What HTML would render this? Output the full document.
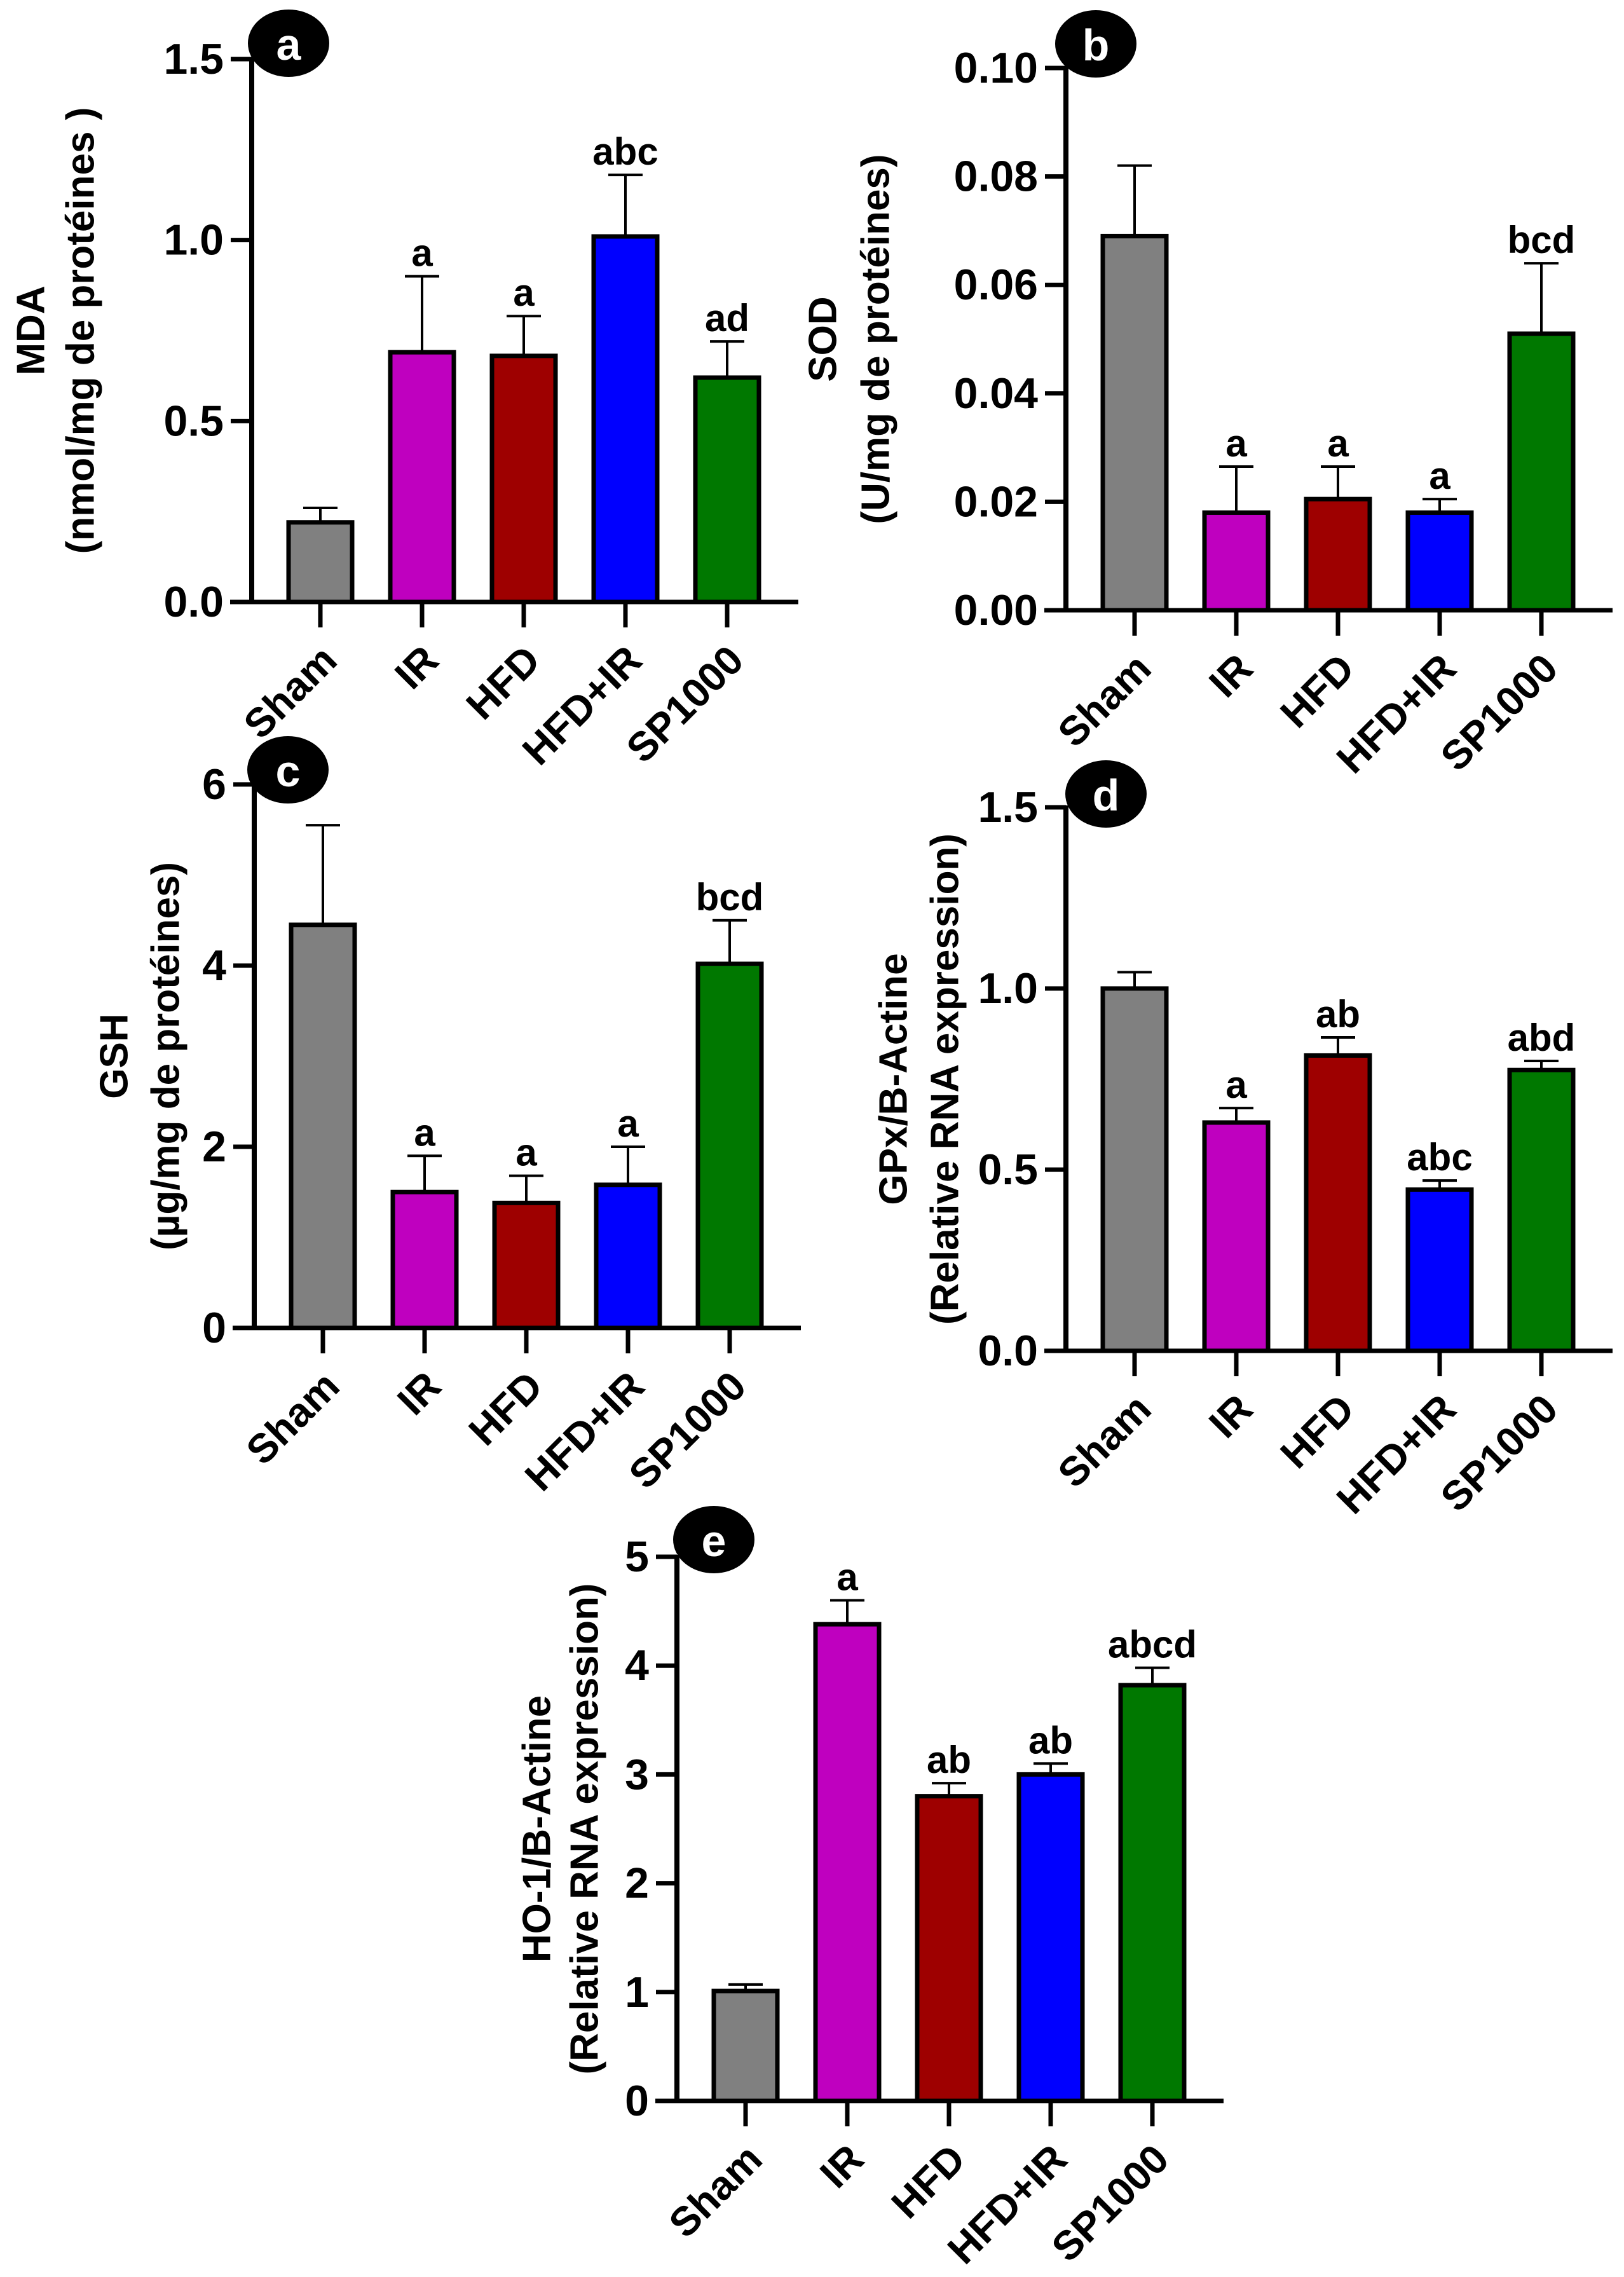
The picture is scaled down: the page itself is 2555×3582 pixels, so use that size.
<!DOCTYPE html>
<html><head><meta charset="utf-8">
<style>
html,body{margin:0;padding:0;background:#fff;}
svg{display:block;}
text{font-family:"Liberation Sans",Arial,sans-serif;font-weight:bold;}
</style></head>
<body>
<svg id="fig" width="2555" height="3582" viewBox="0 0 2555 3582" xmlns="http://www.w3.org/2000/svg"></svg>
<script>
const categories = ["Sham","IR","HFD","HFD+IR","SP1000"];
const colors = ["#808080","#BF00BF","#9E0000","#0000FF","#007800"];

const mdaValues = [0.22,0.69,0.68,1.01,0.62];
const mdaErrTop = [0.26,0.90,0.79,1.18,0.72];
const mdaLetters = ["","a","a","abc","ad"];
const mdaTicks = ["0.0","0.5","1.0","1.5"];

const sodValues = [0.069,0.018,0.0205,0.018,0.051];
const sodErrTop = [0.082,0.0265,0.0265,0.0205,0.064];
const sodLetters = ["","a","a","a","bcd"];
const sodTicks = ["0.00","0.02","0.04","0.06","0.08","0.10"];

const gshValues = [4.45,1.50,1.38,1.58,4.02];
const gshErrTop = [5.55,1.90,1.68,2.00,4.50];
const gshLetters = ["","a","a","a","bcd"];
const gshTicks = ["0","2","4","6"];

const gpxValues = [1.00,0.63,0.815,0.445,0.775];
const gpxErrTop = [1.045,0.67,0.865,0.47,0.80];
const gpxLetters = ["","a","ab","abc","abd"];
const gpxTicks = ["0.0","0.5","1.0","1.5"];

const hoValues = [1.01,4.38,2.80,3.00,3.82];
const hoErrTop = [1.07,4.60,2.92,3.10,3.98];
const hoLetters = ["","a","ab","ab","abcd"];
const hoTicks = ["0","1","2","3","4","5"];

const NS = "http://www.w3.org/2000/svg";
const svg = document.getElementById('fig');
function mk(tag, attrs, parent){
  const e = document.createElementNS(NS, tag);
  for (const k in attrs) e.setAttribute(k, attrs[k]);
  (parent||svg).appendChild(e);
  return e;
}

function panel(cfg){
  const g = mk('g', {});
  
  
  const ax = cfg.axisX, y0 = cfg.y0, yTop = cfg.yTop, vmax = cfg.vmax;
  const yScale = v => y0 - (v / vmax) * (y0 - yTop);
  const xScale = i => ax + 108 + i * 160;
  const bw = 100;

  const cy = (y0 + yTop) / 2;
  const t1 = mk('text', {x: cfg.tx1, y: cy, 'font-size': 62, 'text-anchor': 'middle', 'dominant-baseline': 'central', transform: `rotate(-90 ${cfg.tx1} ${cy})`}, g);
  t1.textContent = cfg.title1;
  
  
  const t2 = mk('text', {x: cfg.tx2, y: cy, 'font-size': 62, 'text-anchor': 'middle', 'dominant-baseline': 'central', transform: `rotate(-90 ${cfg.tx2} ${cy})`}, g);
  t2.textContent = cfg.title2;
  
  

  cfg.values.forEach((v, i) => {
    const cx = xScale(i);
    const top = yScale(v);
    const r = mk('rect', {x: cx - bw/2, y: top, width: bw, height: y0 - top, fill: colors[i], stroke: '#000', 'stroke-width': 7}, g);
    
    
    const et = yScale(cfg.err[i]);
    const el = mk('path', {d: `M${cx} ${top} V${et} M${cx-27} ${et} H${cx+27}`, stroke: '#000', 'stroke-width': 4, fill: 'none'}, g);
    
    
    if (cfg.letters[i]) {
      const lt = mk('text', {x: cx, y: et - 16, 'font-size': 60, 'text-anchor': 'middle'}, g);
      lt.textContent = cfg.letters[i];
      
      
    }
    mk('line', {x1: cx, y1: y0, x2: cx, y2: y0 + 40, stroke: '#000', 'stroke-width': 7}, g);
    const lx = cx + 14, ly = y0 + 80;
    const cl = mk('text', {x: lx, y: ly, 'font-size': 64, 'text-anchor': 'end', 'dominant-baseline': 'central', transform: `rotate(-45 ${lx} ${ly})`}, g);
    cl.textContent = categories[i];
    
    
  });

  const ya = mk('line', {x1: ax, y1: yTop - 3, x2: ax, y2: y0 + 3, stroke: '#000', 'stroke-width': 8}, g);
  
  
  const xa = mk('line', {x1: ax - 34, y1: y0, x2: ax + 860, y2: y0, stroke: '#000', 'stroke-width': 7}, g);
  
  
  const n = cfg.ticks.length;
  cfg.ticks.forEach((lab, k) => {
    const v = vmax * k / (n - 1);
    const y = yScale(v);
    mk('line', {x1: ax - 33, y1: y, x2: ax, y2: y, stroke: '#000', 'stroke-width': 7}, g);
    const tl = mk('text', {x: ax - 44, y: y, 'font-size': 68, 'text-anchor': 'end', 'dominant-baseline': 'central'}, g);
    tl.textContent = lab;
    
    
  });

  const b = mk('ellipse', {cx: cfg.bx, cy: cfg.by, rx: 64, ry: 53, fill: '#000'}, g);
  
  
  const bt = mk('text', {x: cfg.bx, y: cfg.by + 2, 'font-size': 70, fill: '#fff', 'text-anchor': 'middle', 'dominant-baseline': 'central'}, g);
  bt.textContent = cfg.id;
  
  
}

panel({id:'a', axisX:396, y0:947, yTop:93, vmax:1.5, values:mdaValues, err:mdaErrTop, letters:mdaLetters, ticks:mdaTicks,
  title1:'MDA', title2:'(nmol/mg de protéines )', tx1:49, tx2:127, bx:454, by:68});
panel({id:'b', axisX:1677, y0:960, yTop:107, vmax:0.10, values:sodValues, err:sodErrTop, letters:sodLetters, ticks:sodTicks,
  title1:'SOD', title2:'(U/mg de protéines)', tx1:1295, tx2:1378, bx:1724, by:69});
panel({id:'c', axisX:400, y0:2089, yTop:1234, vmax:6, values:gshValues, err:gshErrTop, letters:gshLetters, ticks:gshTicks,
  title1:'GSH', title2:'(µg/mg de protéines)', tx1:180, tx2:261, bx:453, by:1211});
panel({id:'d', axisX:1677, y0:2125, yTop:1270, vmax:1.5, values:gpxValues, err:gpxErrTop, letters:gpxLetters, ticks:gpxTicks,
  title1:'GPx/B-Actine', title2:'(Relative RNA expression)', tx1:1406, tx2:1487, bx:1740, by:1249});
panel({id:'e', axisX:1065, y0:3305, yTop:2449, vmax:5, values:hoValues, err:hoErrTop, letters:hoLetters, ticks:hoTicks,
  title1:'HO-1/B-Actine', title2:'(Relative RNA expression)', tx1:845, tx2:920, bx:1123, by:2422});
</script>
</body></html>
